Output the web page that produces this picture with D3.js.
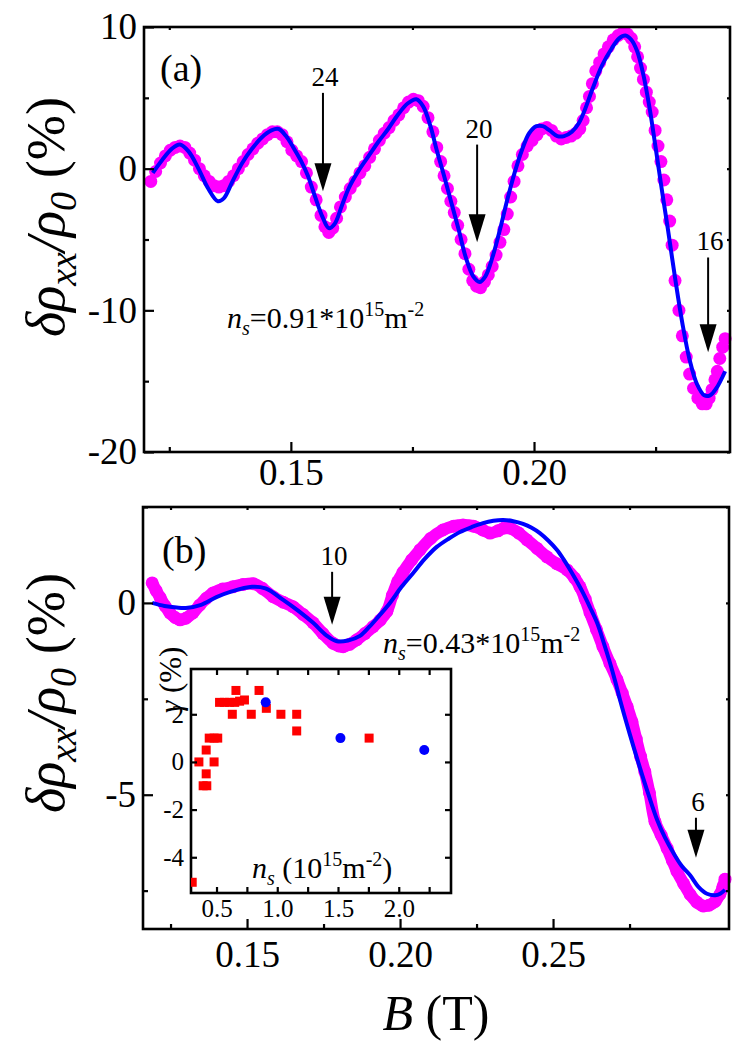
<!DOCTYPE html>
<html>
<head>
<meta charset="utf-8">
<script src="https://cdn.jsdelivr.net/npm/d3@7"></script>
<style>
body{margin:0;background:#fff}
svg{display:block;font-family:"Liberation Serif","Times New Roman",serif}
</style>
</head>
<body>
<svg id="chart" width="747" height="1051"></svg>
<script>
// ---------- data ----------
// panel (a): ns = 0.91e15, [B (T), drho/rho (%)]
var dotsA = [
 [0.1212,-0.9],[0.1222,-0.2],[0.1232,0.4],[0.1242,0.9],[0.1252,1.3],[0.1262,1.5],[0.1272,1.6],[0.1282,1.5],
 [0.1292,1.1],[0.1302,0.6],[0.1312,0.0],[0.1322,-0.5],[0.1332,-0.9],[0.1342,-1.2],[0.1352,-1.3],[0.1362,-1.2],
 [0.1372,-0.9],[0.1382,-0.5],[0.1392,0.0],[0.1402,0.5],[0.1412,1.0],[0.1422,1.4],[0.1432,1.8],[0.1442,2.1],
 [0.1452,2.4],[0.1462,2.6],[0.1472,2.6],[0.1482,2.4],[0.1492,1.9],[0.1502,1.3],[0.1512,0.9],[0.1522,0.5],
 [0.1532,-0.3],[0.1542,-1.3],[0.1552,-2.2],[0.1562,-3.3],[0.1570,-4.1],[0.1578,-4.5],[0.1586,-4.2],[0.1594,-3.5],
 [0.1602,-2.7],[0.1612,-2.0],[0.1622,-1.4],[0.1632,-0.9],[0.1642,-0.3],[0.1652,0.2],[0.1662,0.8],[0.1672,1.4],
 [0.1682,2.0],[0.1692,2.5],[0.1702,2.9],[0.1712,3.4],[0.1722,3.8],[0.1732,4.3],[0.1742,4.7],[0.1752,4.9],
 [0.1762,4.8],[0.1772,4.4],[0.1782,3.6],[0.1792,2.6],[0.1800,1.5],[0.1808,0.5],[0.1815,-0.5],[0.1822,-1.4],
 [0.1829,-2.3],[0.1836,-3.1],[0.1843,-4.0],[0.1850,-5.0],[0.1858,-6.0],[0.1866,-7.1],[0.1874,-7.9],[0.1882,-8.3],
 [0.1890,-8.4],[0.1898,-8.0],[0.1906,-7.5],[0.1914,-6.9],[0.1922,-6.1],[0.1930,-5.2],[0.1938,-4.3],[0.1945,-3.2],
 [0.1952,-2.0],[0.1959,-0.9],[0.1967,0.2],[0.1976,1.0],[0.1986,1.6],[0.1996,2.0],[0.2006,2.4],[0.2016,2.8],
 [0.2026,2.9],[0.2036,2.7],[0.2046,2.3],[0.2056,2.1],[0.2066,2.2],[0.2076,2.3],[0.2086,2.5],[0.2094,2.8],
 [0.2101,3.4],[0.2108,4.3],[0.2114,5.1],[0.2120,6.0],[0.2127,6.9],[0.2135,7.5],[0.2144,8.1],[0.2153,8.6],
 [0.2163,9.1],[0.2173,9.4],[0.2183,9.6],[0.2192,9.5],[0.2200,9.2],[0.2207,8.6],[0.2213,7.9],[0.2219,7.1],
 [0.2225,6.3],[0.2231,5.4],[0.2237,4.7],[0.2243,4.0],[0.2249,2.7],[0.2255,1.6],[0.2261,0.5],[0.2267,-0.8],
 [0.2273,-2.2],[0.2279,-3.7],[0.2284,-5.4],[0.2290,-7.9],[0.2298,-10.0],[0.2305,-11.8],[0.2313,-13.3],[0.2320,-14.5],
 [0.2328,-15.5],[0.2337,-16.2],[0.2346,-16.6],[0.2354,-16.6],[0.2360,-16.2],[0.2366,-15.6],[0.2372,-14.9],[0.2377,-14.3],
 [0.2382,-13.4],[0.2388,-12.6],[0.2393,-12.0]
];
var fitA = [
 [0.1216,-0.3],[0.1235,0.6],[0.1255,1.4],[0.1272,1.7],[0.1290,1.2],[0.1310,0.0],[0.1330,-1.4],[0.1350,-2.3],
 [0.1362,-2.1],[0.1380,-0.9],[0.1400,0.4],[0.1420,1.4],[0.1440,2.2],[0.1460,2.7],[0.1475,2.8],[0.1490,2.3],
 [0.1505,1.5],[0.1520,0.6],[0.1535,-0.5],[0.1550,-2.0],[0.1565,-3.4],[0.1578,-4.2],[0.1590,-3.9],[0.1605,-2.6],
 [0.1620,-1.3],[0.1640,-0.1],[0.1660,0.9],[0.1680,1.9],[0.1700,2.8],[0.1720,3.8],[0.1740,4.6],[0.1758,4.9],
 [0.1772,4.4],[0.1787,3.0],[0.1800,1.3],[0.1815,-0.5],[0.1830,-2.4],[0.1845,-4.3],[0.1860,-6.3],[0.1875,-7.6],
 [0.1888,-8.0],[0.1900,-7.6],[0.1915,-6.2],[0.1930,-4.3],[0.1945,-2.2],[0.1960,-0.3],[0.1975,1.3],[0.1990,2.5],
 [0.2005,3.0],[0.2018,3.0],[0.2032,2.7],[0.2048,2.3],[0.2062,2.3],[0.2078,2.6],[0.2092,3.2],[0.2105,4.2],
 [0.2120,5.6],[0.2140,7.3],[0.2160,8.5],[0.2175,9.2],[0.2188,9.4],[0.2200,9.1],[0.2212,8.3],[0.2225,6.6],
 [0.2238,4.2],[0.2250,1.5],[0.2262,-1.3],[0.2275,-4.2],[0.2290,-7.7],[0.2305,-10.9],[0.2320,-13.5],[0.2335,-15.2],
 [0.2350,-16.0],[0.2362,-16.0],[0.2375,-15.5],[0.2393,-14.3]
];
// filling factor arrows: [nu, B, tip value, tail value]
var arrowsA = [[24,0.1566,-1.6,5.35],[20,0.1883,-5.2,1.7],[16,0.2358,-12.96,-6.27]];

// panel (b): ns = 0.43e15
var dotsB = [
 [0.1190,0.52],[0.1203,0.32],[0.1216,0.14],[0.1232,-0.08],[0.1248,-0.26],[0.1265,-0.38],[0.1281,-0.44],[0.1300,-0.40],
 [0.1323,-0.26],[0.1345,-0.06],[0.1367,0.12],[0.1389,0.26],[0.1420,0.36],[0.1454,0.42],[0.1487,0.48],[0.1520,0.50],
 [0.1550,0.38],[0.1585,0.16],[0.1618,0.02],[0.1650,-0.10],[0.1683,-0.30],[0.1716,-0.52],[0.1748,-0.80],[0.1781,-1.05],
 [0.1800,-1.12],[0.1814,-1.14],[0.1835,-1.08],[0.1859,-0.96],[0.1885,-0.80],[0.1912,-0.62],[0.1935,-0.45],[0.1957,-0.22],
 [0.1975,0.20],[0.1992,0.55],[0.2010,0.80],[0.2038,1.12],[0.2065,1.38],[0.2100,1.68],[0.2140,1.90],[0.2175,2.00],
 [0.2206,2.03],[0.2240,2.00],[0.2270,1.90],[0.2294,1.82],[0.2320,1.88],[0.2340,1.95],[0.2359,1.95],[0.2388,1.82],
 [0.2415,1.64],[0.2448,1.42],[0.2480,1.20],[0.2512,1.02],[0.2546,0.86],[0.2570,0.65],[0.2588,0.42],[0.2605,0.10],
 [0.2621,-0.26],[0.2642,-0.70],[0.2663,-1.14],[0.2686,-1.58],[0.2709,-2.00],[0.2726,-2.35],[0.2742,-2.70],[0.2758,-3.10],
 [0.2772,-3.55],[0.2786,-4.00],[0.2800,-4.40],[0.2815,-4.95],[0.2833,-5.70],[0.2853,-6.05],[0.2873,-6.40],[0.2890,-6.72],
 [0.2905,-7.00],[0.2927,-7.32],[0.2948,-7.60],[0.2970,-7.80],[0.2990,-7.90],[0.3010,-7.88],[0.3030,-7.78],[0.3045,-7.60],
 [0.3055,-7.40],[0.3062,-7.20]
];
var fitB = [
 [0.1190,0.00],[0.1230,-0.08],[0.1270,-0.12],[0.1300,-0.13],[0.1350,-0.05],[0.1400,0.15],[0.1450,0.30],[0.1516,0.42],
 [0.1560,0.38],[0.1618,0.08],[0.1670,-0.22],[0.1716,-0.52],[0.1760,-0.85],[0.1794,-1.00],[0.1830,-0.98],[0.1869,-0.86],
 [0.1900,-0.62],[0.1930,-0.35],[0.1967,0.00],[0.2005,0.42],[0.2043,0.78],[0.2080,1.14],[0.2120,1.46],[0.2160,1.68],
 [0.2196,1.85],[0.2235,1.98],[0.2271,2.08],[0.2305,2.14],[0.2337,2.16],[0.2370,2.13],[0.2402,2.06],[0.2430,1.96],
 [0.2457,1.82],[0.2485,1.62],[0.2513,1.38],[0.2535,1.13],[0.2556,0.86],[0.2577,0.57],[0.2598,0.26],[0.2621,-0.12],
 [0.2644,-0.52],[0.2665,-1.02],[0.2686,-1.56],[0.2703,-2.04],[0.2719,-2.53],[0.2750,-3.40],[0.2784,-4.30],[0.2812,-5.00],
 [0.2840,-5.65],[0.2866,-6.12],[0.2892,-6.50],[0.2920,-6.85],[0.2948,-7.10],[0.2975,-7.40],[0.3003,-7.58],[0.3030,-7.62],
 [0.3046,-7.58],[0.3062,-7.48]
];
var arrowsB = [[10,0.1778,-0.57,0.81],[6,0.2967,-6.64,-5.6]];

// inset: gamma (%) vs ns (1e15 m^-2)
var insetSquares = [
 [0.30,-5.05],[0.355,0],[0.39,-1.0],[0.42,-1.0],[0.415,-0.5],[0.415,0.5],[0.44,1.0],[0.48,1.0],[0.51,1.0],
 [0.48,0],[0.525,2.5],[0.565,2.5],[0.607,2.5],[0.65,2.5],[0.69,2.55],[0.66,3.0],[0.73,2.6],[0.63,2.0],
 [0.786,2.0],[0.85,3.0],[0.91,2.25],[1.03,2.0],[1.16,2.0],[1.16,1.3],[1.756,1.0]
];
var insetCircles = [[0.905,2.5],[1.52,1.0],[2.21,0.5]];

// ticks
var aXMajor = [0.15,0.20], aXMinor = [0.125,0.175,0.225];
var aYMajor = [10,0,-10,-20], aYMinor = [5,-5,-15];
var bXMajor = [0.15,0.20,0.25], bXMinor = [0.125,0.175,0.225,0.275];
var bYMajor = [0,-5], bYMinor = [2.5,-2.5,-7.5];
var iXMajor = [0.5,1.0,1.5,2.0], iXMinor = [0.75,1.25,1.75,2.25];
var iYMajor = [2,0,-2,-4];

var MAGENTA = "#ff00ff", BLUE = "#0000ff", RED = "#ff0000";
var FONT = '"Liberation Serif","Times New Roman",serif';

var svg = d3.select("#chart");

// scales
var xA = d3.scaleLinear().domain([0.1198,0.2403]).range([144,730]);
var yA = d3.scaleLinear().domain([-20,10]).range([452,27]);
var xB = d3.scaleLinear().domain([0.116,0.3075]).range([143,729]);
var yB = d3.scaleLinear().domain([-8.5,2.5]).range([929,507]);
var xI = d3.scaleLinear().domain([0.29,2.43]).range([191,451]);
var yI = d3.scaleLinear().domain([-5.5,3.9]).range([893,669]);

function frame(x, y, fill){
  svg.append("rect")
    .attr("x", x.range()[0]).attr("y", y.range()[1])
    .attr("width", x.range()[1]-x.range()[0]).attr("height", y.range()[0]-y.range()[1])
    .attr("fill", fill || "none").attr("stroke","#000").attr("stroke-width",2.6);
}

function axes(x, y, o){
  var x0 = x.range()[0], x1 = x.range()[1], y0 = y.range()[0], y1 = y.range()[1];
  var parts = [
    [d3.axisBottom(x).tickValues(o.xMajor).tickSize(-o.big).tickPadding(o.padX).tickFormat(o.xFmt), "translate(0,"+y0+")"],
    [d3.axisBottom(x).tickValues(o.xMinor).tickSize(-o.small).tickFormat(""), "translate(0,"+y0+")"],
    [d3.axisLeft(y).tickValues(o.yMajor).tickSize(-o.big).tickPadding(o.padY).tickFormat(function(d){return String(d)}), "translate("+x0+",0)"],
    [d3.axisLeft(y).tickValues(o.yMinor).tickSize(-o.small).tickFormat(""), "translate("+x0+",0)"],
    [d3.axisTop(x).tickValues(o.xMajor.concat(o.xMinor)).tickSize(-o.mirror).tickFormat(""), "translate(0,"+y1+")"],
    [d3.axisRight(y).tickValues(o.yMajor.concat(o.yMinor)).tickSize(-o.mirror).tickFormat(""), "translate("+x1+",0)"]
  ];
  parts.forEach(function(p){
    var g = svg.append("g").attr("transform", p[1]).call(p[0]);
    g.select(".domain").remove();
    g.selectAll("line").attr("stroke","#000").attr("stroke-width",2.2);
    g.selectAll("text").attr("fill","#000").attr("font-size",o.font).attr("font-family",FONT);
  });
}

function arrows(list, x, y, fs){
  list.forEach(function(a){
    var px = x(a[1]), tip = y(a[2]), tail = y(a[3]);
    svg.append("line").attr("x1",px).attr("x2",px).attr("y1",tail).attr("y2",tip-20)
      .attr("stroke","#000").attr("stroke-width",2);
    svg.append("path").attr("d","M"+(px-8.5)+","+(tip-28)+"L"+(px+8.5)+","+(tip-28)+"L"+px+","+tip+"Z")
      .attr("fill","#000");
    svg.append("text").attr("x",px+2).attr("y",tail-7).attr("text-anchor","middle")
      .attr("font-size",fs).text(a[0]);
  });
}

function nsLabel(x, y, val, fs, paren){
  var sub = Math.round(fs*0.66);
  var t = svg.append("text").attr("x",x).attr("y",y).attr("font-size",fs);
  t.append("tspan").attr("font-style","italic").text("n");
  t.append("tspan").attr("font-style","italic").attr("font-size",sub).attr("dy",fs*0.24).text("s");
  t.append("tspan").attr("dy",-fs*0.24).text(paren ? " (10" : "="+val+"*10");
  t.append("tspan").attr("font-size",sub).attr("dy",-fs*0.4).text("15");
  t.append("tspan").attr("dy",fs*0.4).text("m");
  t.append("tspan").attr("font-size",sub).attr("dy",-fs*0.4).text("-2");
  if(paren) t.append("tspan").attr("dy",fs*0.4).text(")");
}

// rotated y title, sized so that it runs over the given length
function yTitle(x, yStart, len){
  var t = svg.append("text").attr("transform","translate("+x+","+yStart+") rotate(-90)");
  var s1 = t.append("tspan").attr("font-style","italic").text("δρ");
  var s2 = t.append("tspan").attr("font-style","italic").text("xx");
  var s3 = t.append("tspan").attr("font-style","italic").text("/ρ");
  var s4 = t.append("tspan").attr("font-style","italic").text("0");
  var s5 = t.append("tspan").text(" (%)");
  function size(fs){
    var sub = fs*0.7, sh = fs*0.22;
    t.attr("font-size",fs);
    s2.attr("font-size",sub).attr("dy",sh);
    s3.attr("dy",-sh);
    s4.attr("font-size",sub).attr("dy",sh);
    s5.attr("dy",-sh);
  }
  size(52);
  var w = t.node().getComputedTextLength();
  size(52*len/w);
}

var line = d3.line().curve(d3.curveCatmullRom.alpha(0.5));

// ---------- panel (a) ----------
var lineA = line.x(function(d){return xA(d[0])}).y(function(d){return yA(d[1])});
svg.append("g").selectAll("circle").data(dotsA).enter().append("circle")
  .attr("cx",function(d){return xA(d[0])}).attr("cy",function(d){return yA(d[1])})
  .attr("r",6.5).attr("fill",MAGENTA);
svg.append("path").attr("d",lineA(fitA)).attr("fill","none").attr("stroke",BLUE).attr("stroke-width",4);
frame(xA,yA);
axes(xA,yA,{xMajor:aXMajor,xMinor:aXMinor,yMajor:aYMajor,yMinor:aYMinor,big:10,small:5,mirror:3,
  padX:7,padY:7,font:37,xFmt:d3.format(".2f")});
arrows(arrowsA,xA,yA,27);
svg.append("text").attr("x",160).attr("y",81).attr("font-size",38).text("(a)");
nsLabel(227,328,"0.91",30);
yTitle(64,337,240);

// ---------- panel (b) ----------
var lineB = d3.line().curve(d3.curveCatmullRom.alpha(0.5))
  .x(function(d){return xB(d[0])}).y(function(d){return yB(d[1])});
svg.append("path").attr("d",lineB(dotsB)).attr("fill","none").attr("stroke",MAGENTA)
  .attr("stroke-width",12).attr("stroke-linecap","round").attr("stroke-linejoin","round");
svg.append("g").selectAll("circle").data(dotsB).enter().append("circle")
  .attr("cx",function(d){return xB(d[0])}).attr("cy",function(d){return yB(d[1])})
  .attr("r",6.5).attr("fill",MAGENTA);
svg.append("path").attr("d",lineB(fitB)).attr("fill","none").attr("stroke",BLUE).attr("stroke-width",4);
frame(xB,yB);
axes(xB,yB,{xMajor:bXMajor,xMinor:bXMinor,yMajor:bYMajor,yMinor:bYMinor,big:10,small:5,mirror:3,
  padX:12,padY:7,font:37,xFmt:d3.format(".2f")});
arrows(arrowsB,xB,yB,27);
svg.append("text").attr("x",162).attr("y",563).attr("font-size",38).text("(b)");
nsLabel(383,653,"0.43",30);
yTitle(64,813,240);

// x title
var bt = svg.append("text").attr("x",436).attr("y",1030).attr("text-anchor","middle").attr("font-size",50);
bt.append("tspan").attr("font-style","italic").text("B");
bt.append("tspan").text(" (T)");

// ---------- inset ----------
frame(xI,yI,"#fff");
svg.append("clipPath").attr("id","clipI").append("rect")
  .attr("x",191).attr("y",669).attr("width",260).attr("height",224);
var gi = svg.append("g").attr("clip-path","url(#clipI)");
gi.selectAll("rect.sq").data(insetSquares).enter().append("rect").attr("class","sq")
  .attr("x",function(d){return xI(d[0])-4.5}).attr("y",function(d){return yI(d[1])-4.5})
  .attr("width",9).attr("height",9).attr("fill",RED);
gi.selectAll("circle").data(insetCircles).enter().append("circle")
  .attr("cx",function(d){return xI(d[0])}).attr("cy",function(d){return yI(d[1])})
  .attr("r",5).attr("fill",BLUE);
axes(xI,yI,{xMajor:iXMajor,xMinor:iXMinor,yMajor:iYMajor,yMinor:[],big:6,small:6,mirror:6,
  padX:6,padY:7,font:25,xFmt:d3.format(".1f")});
nsLabel(252,878,"",30,true);
var gt = svg.append("text").attr("transform","translate(181,713) rotate(-90)").attr("font-size",31);
gt.append("tspan").attr("font-style","italic").text("γ");
gt.append("tspan").text(" (%)");
</script>
</body>
</html>
